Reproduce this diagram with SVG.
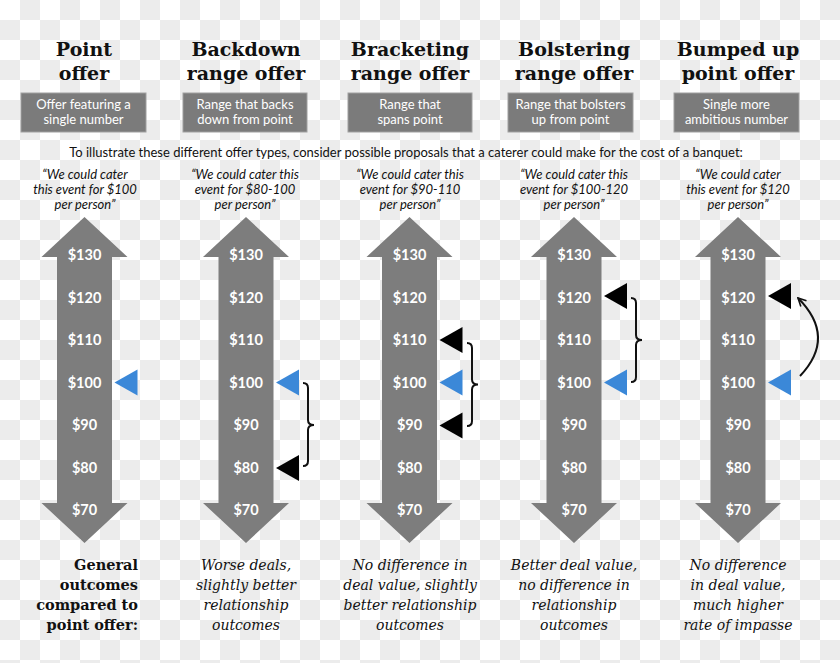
<svg xmlns="http://www.w3.org/2000/svg" width="840" height="663" viewBox="0 0 840 663">
<defs>
<pattern id="checker" x="0" y="0" width="40" height="40" patternUnits="userSpaceOnUse">
<rect width="40" height="40" fill="#ffffff"/>
<rect x="20" y="0" width="20" height="20" fill="#ececec"/>
<rect x="0" y="20" width="20" height="20" fill="#ececec"/>
</pattern>
<path id="dblarrow" d="M0,217 L43,257 L27.5,257 L27.5,503 L43,503 L0,543 L-43,503 L-27.5,503 L-27.5,257 L-43,257 Z"/>
<path id="tri" d="M30,0 L53,-13 L53,13 Z"/>
<marker id="chev" viewBox="0 0 10 10" refX="9" refY="5" markerWidth="5" markerHeight="5" orient="auto" markerUnits="strokeWidth">
<path d="M1,1 L9,5 L1,9" fill="none" stroke="#111" stroke-width="1.6"/>
</marker>
</defs>
<style>
.title{font-family:"DejaVu Serif",serif;font-weight:bold;font-size:19px;fill:#111;text-anchor:middle}
.box{fill:#7b7b7b;stroke:#a0a0a0;stroke-width:1}
.boxt{font-family:Lato,"Open Sans",sans-serif;font-size:13px;fill:#fff;text-anchor:middle}
.intro{font-family:Lato,"Open Sans",sans-serif;font-size:13px;fill:#111;text-anchor:middle}
.quote{font-family:Lato,"Open Sans",sans-serif;font-style:italic;font-size:13px;fill:#111;text-anchor:middle}
.arrow{fill:#7d7d7d}
.val{font-family:Lato,"Open Sans",sans-serif;font-weight:bold;font-size:14.5px;fill:#fff;text-anchor:middle}
.blue{fill:#3b88d8}
.black{fill:#000}
.out{font-family:"DejaVu Serif",serif;font-style:italic;font-size:14px;fill:#111;text-anchor:middle}
.outh{font-family:"DejaVu Serif",serif;font-weight:bold;font-size:14.5px;fill:#111;text-anchor:end}
.brace{fill:none;stroke:#111;stroke-width:2}
</style>
<rect width="840" height="663" fill="url(#checker)"/>

<text class="intro" x="406" y="157">To illustrate these different offer types, consider possible proposals that a caterer could make for the cost of a banquet:</text>

<g id="col-point">
<text class="title" x="84" y="56">Point</text>
<text class="title" x="84" y="80">offer</text>
<rect class="box" x="21" y="93" width="125" height="39"/>
<text class="boxt" x="83.5" y="109">Offer featuring a</text>
<text class="boxt" x="83.5" y="124">single number</text>
<text class="quote" x="85" y="179">“We could cater</text>
<text class="quote" x="85" y="194">this event for $100</text>
<text class="quote" x="85" y="209">per person”</text>
<use href="#dblarrow" class="arrow" transform="translate(84.5,0)"/>
<g class="val" transform="translate(84.5,0)">
<text x="0" y="260">$130</text><text x="0" y="302.5">$120</text><text x="0" y="345">$110</text><text x="0" y="387.5">$100</text><text x="0" y="430">$90</text><text x="0" y="472.5">$80</text><text x="0" y="515">$70</text>
</g>
<use href="#tri" class="blue" transform="translate(84.5,382.5)"/>
</g>

<g id="col-backdown">
<text class="title" x="246" y="56">Backdown</text>
<text class="title" x="246" y="80">range offer</text>
<rect class="box" x="183" y="93" width="124" height="39"/>
<text class="boxt" x="245" y="109">Range that backs</text>
<text class="boxt" x="245" y="124">down from point</text>
<text class="quote" x="245" y="179">“We could cater this</text>
<text class="quote" x="245" y="194">event for $80-100</text>
<text class="quote" x="245" y="209">per person”</text>
<use href="#dblarrow" class="arrow" transform="translate(246,0)"/>
<g class="val" transform="translate(246,0)">
<text x="0" y="260">$130</text><text x="0" y="302.5">$120</text><text x="0" y="345">$110</text><text x="0" y="387.5">$100</text><text x="0" y="430">$90</text><text x="0" y="472.5">$80</text><text x="0" y="515">$70</text>
</g>
<use href="#tri" class="blue" transform="translate(246,382.5)"/>
<use href="#tri" class="black" transform="translate(246,468)"/>
</g>

<g id="col-bracketing">
<text class="title" x="410" y="56">Bracketing</text>
<text class="title" x="410" y="80">range offer</text>
<rect class="box" x="348" y="93" width="124" height="39"/>
<text class="boxt" x="410" y="109">Range that</text>
<text class="boxt" x="410" y="124">spans point</text>
<text class="quote" x="410" y="179">“We could cater this</text>
<text class="quote" x="410" y="194">event for $90-110</text>
<text class="quote" x="410" y="209">per person”</text>
<use href="#dblarrow" class="arrow" transform="translate(409.5,0)"/>
<g class="val" transform="translate(409.5,0)">
<text x="0" y="260">$130</text><text x="0" y="302.5">$120</text><text x="0" y="345">$110</text><text x="0" y="387.5">$100</text><text x="0" y="430">$90</text><text x="0" y="472.5">$80</text><text x="0" y="515">$70</text>
</g>
<use href="#tri" class="black" transform="translate(409.5,340)"/>
<use href="#tri" class="blue" transform="translate(409.5,382.5)"/>
<use href="#tri" class="black" transform="translate(409.5,425.5)"/>
</g>

<g id="col-bolstering">
<text class="title" x="574" y="56">Bolstering</text>
<text class="title" x="574" y="80">range offer</text>
<rect class="box" x="508" y="93" width="125" height="39"/>
<text class="boxt" x="570.5" y="109">Range that bolsters</text>
<text class="boxt" x="570.5" y="124">up from point</text>
<text class="quote" x="574" y="179">“We could cater this</text>
<text class="quote" x="574" y="194">event for $100-120</text>
<text class="quote" x="574" y="209">per person”</text>
<use href="#dblarrow" class="arrow" transform="translate(574,0)"/>
<g class="val" transform="translate(574,0)">
<text x="0" y="260">$130</text><text x="0" y="302.5">$120</text><text x="0" y="345">$110</text><text x="0" y="387.5">$100</text><text x="0" y="430">$90</text><text x="0" y="472.5">$80</text><text x="0" y="515">$70</text>
</g>
<use href="#tri" class="black" transform="translate(574,296)"/>
<use href="#tri" class="blue" transform="translate(574,382.5)"/>
</g>

<g id="col-bumped">
<text class="title" x="738" y="56">Bumped up</text>
<text class="title" x="738" y="80">point offer</text>
<rect class="box" x="674" y="93" width="125" height="39"/>
<text class="boxt" x="736.5" y="109">Single more</text>
<text class="boxt" x="736.5" y="124">ambitious number</text>
<text class="quote" x="738" y="179">“We could cater</text>
<text class="quote" x="738" y="194">this event for $120</text>
<text class="quote" x="738" y="209">per person”</text>
<use href="#dblarrow" class="arrow" transform="translate(738,0)"/>
<g class="val" transform="translate(738,0)">
<text x="0" y="260">$130</text><text x="0" y="302.5">$120</text><text x="0" y="345">$110</text><text x="0" y="387.5">$100</text><text x="0" y="430">$90</text><text x="0" y="472.5">$80</text><text x="0" y="515">$70</text>
</g>
<use href="#tri" class="black" transform="translate(738,296)"/>
<use href="#tri" class="blue" transform="translate(738,382.5)"/>
</g>

<g id="outcomes">
<text class="outh" x="138" y="570">General</text>
<text class="outh" x="138" y="590">outcomes</text>
<text class="outh" x="138" y="610">compared to</text>
<text class="outh" x="138" y="630">point offer:</text>
<text class="out" x="246" y="570">Worse deals,</text>
<text class="out" x="246" y="590">slightly better</text>
<text class="out" x="246" y="610">relationship</text>
<text class="out" x="246" y="630">outcomes</text>
<text class="out" x="410" y="570">No difference in</text>
<text class="out" x="410" y="590">deal value, slightly</text>
<text class="out" x="410" y="610">better relationship</text>
<text class="out" x="410" y="630">outcomes</text>
<text class="out" x="574" y="570">Better deal value,</text>
<text class="out" x="574" y="590">no difference in</text>
<text class="out" x="574" y="610">relationship</text>
<text class="out" x="574" y="630">outcomes</text>
<text class="out" x="738" y="570">No difference</text>
<text class="out" x="738" y="590">in deal value,</text>
<text class="out" x="738" y="610">much higher</text>
<text class="out" x="738" y="630">rate of impasse</text>
</g>

<g id="connectors">
<path class="brace" d="M303,383 q5,0 5,5 V420 q0,5 6,5 q-6,0 -6,5 V461 q0,5 -5,5"/>
<path class="brace" d="M467,343 q5,0 5,5 V379.5 q0,5 6,5 q-6,0 -6,5 V421 q0,5 -5,5"/>
<path class="brace" d="M631,298 q5,0 5,5 V335 q0,5 6,5 q-6,0 -6,5 V377 q0,5 -5,5"/>
<path d="M800,376 Q837,337 798,298" fill="none" stroke="#111" stroke-width="2" marker-end="url(#chev)"/>
</g>
</svg>
